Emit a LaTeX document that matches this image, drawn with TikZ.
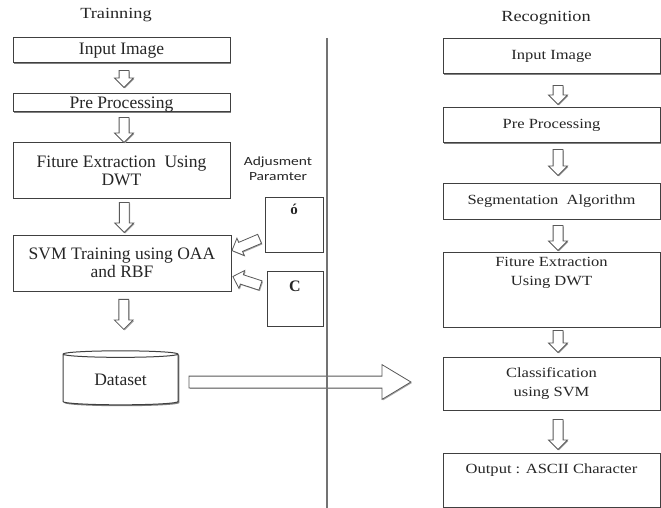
\documentclass[tikz,border=0pt]{standalone}
\usepackage{fontspec}
\setmainfont{Liberation Serif}
\newfontfamily\widefont{Liberation Serif}[FakeStretch=1.18]
\newfontfamily\adjfont{Carlito}[FakeStretch=1.24]
\usetikzlibrary{positioning,calc,shapes.geometric,shapes.arrows,shadows}

\begin{document}
\begin{tikzpicture}[x=1pt,y=-1pt,
  box/.style={draw=black!75, line width=1pt, fill=white, inner sep=1pt, text=black!85,
    drop shadow={shadow xshift=1.4pt, shadow yshift=-1.4pt, fill=black!50, opacity=1}},
  lbox/.style={box, minimum width=217pt, align=center, font=\fontsize{17.5}{18}\selectfont},
  rbox/.style={box, minimum width=217pt, align=center, font=\fontsize{14}{19}\widefont},
  rtext/.style={inner sep=0pt, align=center, text=black!85, font=\fontsize{14}{19}\widefont},
  title/.style={text=black!85, font=\fontsize{15.5}{18}\widefont},
  hollow/.style={single arrow, draw=black!65, fill=white, line width=0.8pt, inner sep=4.5pt,
    single arrow head extend=4.5pt,
    drop shadow={shadow xshift=1pt, shadow yshift=-1pt, fill=black!35, opacity=1}},
  darrow/.style={hollow, shape border rotate=270}]
\useasboundingbox (0,0) rectangle (661,508);

% titles
\node[title] (ttrain) at (116,15) {Trainning};
\node[title] (trecog) at (546,18) {Recognition};

% training side
\node[lbox, minimum height=25pt] (lin) at (121.5,50.5) {Input Image};
\node[lbox, minimum height=18pt, text depth=0pt] (lpre) at (121.5,103) {Pre Processing};
\node[lbox, minimum height=55pt] (lfe) at (121.5,170.5) {Fiture Extraction~ Using\\DWT};
\node[lbox, minimum height=56pt, minimum width=218pt] (lsvm) at (122,263) {SVM Training using OAA\\and RBF};
\node[box, cylinder, shape border rotate=90, aspect=0.12, minimum width=115pt, minimum height=54pt,
  font=\fontsize{17.5}{18}\selectfont] (db) at (120.5,380) {Dataset};

\foreach \a/\b/\l/\s in {lin/lpre/17/-2, lpre/lfe/25/0, lfe/lsvm/30/-1.5, lsvm/db/30/-9}
  \node[darrow, minimum height=\l pt] at ($(\a.south)!.5!(\b.north)+(2.5,\s)$) {};

% adjustment parameters
\node[align=center, text=black!85, font=\fontsize{12.5}{15}\adjfont] (adj) at (278,169) {Adjusment\\Paramter};
\node[box, minimum width=58pt, minimum height=55pt] (osig) at (294,224.5) {};
\node[box, minimum width=56pt, minimum height=55pt] (csym) at (295,298.5) {};
\node[rtext, font=\fontsize{15}{18}\bfseries, below=7pt of osig.north] (osigtext) {ó};
\node[rtext, font=\fontsize{16}{18}\bfseries, below=10pt of csym.north] (csymtext) {C};
\node[hollow, rotate=203, minimum height=30pt] at ($(osig.west)!.5!(lsvm.east)$) {};
\node[hollow, rotate=162, minimum height=29pt] at ($(csym.west)!.5!(lsvm.east)+(0,1)$) {};

% recognition side
\node[rbox, minimum height=35pt] (rin) at (551.5,56.5) {Input Image};
\node[rbox, minimum height=35pt] (rpre) at (551.5,125.5) {Pre Processing};
\node[rbox, minimum height=36pt] (rseg) at (551.5,201) {Segmentation~ Algorithm};
\node[rbox, minimum height=75pt] (rfe) at (551.5,289.5) {};
\node[rtext, below=6pt of rfe.north] (rfetext) {Fiture Extraction\\Using DWT};
\node[rbox, minimum height=53pt] (rcls) at (551.5,383.5) {Classification\\using SVM};
\node[rbox, minimum height=54pt] (rout) at (551.5,480) {};
\node[rtext, below=11pt of rout.north] (routtext) {Output : ASCII Character};

\foreach \a/\b/\l/\s in {rin/rpre/19/1.5, rpre/rseg/26/-3, rseg/rfe/25/0, rfe/rcls/22/-3, rcls/rout/30/0.5}
  \node[darrow, minimum height=\l pt] at ($(\a.south)!.5!(\b.north)+(6.5,\s)$) {};

% dataset to classification
\node[hollow, inner sep=5.5pt, single arrow head extend=11.5pt, single arrow tip angle=62,
  minimum height=222pt, anchor=tail] (feed) at ($(db.east)+(10,2)$) {};

% divider
\coordinate (vtop) at (327,38);
\coordinate (vbot) at (327,508);
\draw[black!55, line width=1.5pt] (vtop) -- (vbot);
\end{tikzpicture}
\end{document}
